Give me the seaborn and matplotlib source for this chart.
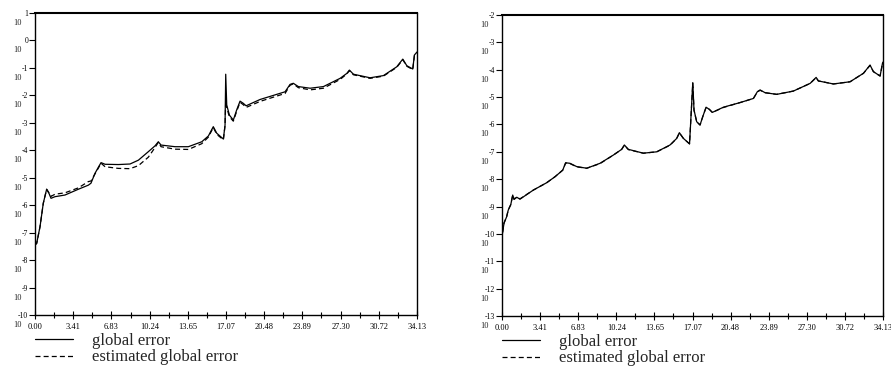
import numpy as np
import pandas as pd
import matplotlib
matplotlib.use("Agg")
import matplotlib.pyplot as plt
import seaborn as sns
from matplotlib.lines import Line2D

sns.set_theme(style="white")
plt.rcParams['font.family'] = ['Liberation Serif', 'DejaVu Serif']

# ---------------- data (log10 of error) ----------------
t_left = [0.0, 0.15, 0.45, 0.74, 1.04, 1.25, 1.43, 1.79, 2.68, 3.87, 4.77, 5.0, 5.36, 5.66,
          5.9, 6.26, 7.45, 8.49, 9.24, 10.13, 10.72, 11.02, 11.26, 12.51, 13.7, 14.9, 15.49,
          15.93, 16.24, 16.83, 16.98, 17.04, 17.13, 17.37, 17.72, 18.02, 18.32, 18.61, 18.86,
          20.11, 22.34, 22.79, 23.08, 23.53, 24.58, 25.77, 27.26, 27.86, 28.09, 28.45, 29.94,
          31.13, 32.32, 32.86, 33.22, 33.75, 33.9, 34.13]
global_left = [-7.45, -7.39, -6.78, -5.93, -5.42, -5.57, -5.75, -5.69, -5.63, -5.42, -5.27,
               -5.2, -4.84, -4.62, -4.45, -4.51, -4.52, -4.5, -4.36, -4.05, -3.84, -3.69,
               -3.81, -3.87, -3.87, -3.69, -3.48, -3.14, -3.38, -3.59, -3.08, -1.23, -2.35,
               -2.72, -2.9, -2.53, -2.21, -2.29, -2.38, -2.15, -1.87, -1.6, -1.56, -1.68,
               -1.74, -1.68, -1.38, -1.2, -1.08, -1.23, -1.36, -1.28, -0.96, -0.68, -0.92,
               -1.04, -0.53, -0.42]
est_left = [-7.45, -7.39, -6.78, -5.93, -5.42, -5.55, -5.68, -5.6, -5.55, -5.37, -5.14,
            -5.12, -4.86, -4.65, -4.47, -4.6, -4.66, -4.67, -4.56, -4.25, -3.9, -3.71,
            -3.87, -3.96, -3.97, -3.76, -3.52, -3.17, -3.42, -3.62, -3.1, -2.2, -2.45,
            -2.78, -2.94, -2.58, -2.25, -2.34, -2.44, -2.22, -1.93, -1.63, -1.58, -1.72,
            -1.8, -1.74, -1.42, -1.22, -1.1, -1.25, -1.38, -1.3, -0.98, -0.7, -0.94,
            -1.06, -0.55, -0.44]

t_right = [0.0, 0.02, 0.18, 0.42, 0.56, 0.78, 0.96, 1.08, 1.32, 1.61, 2.8, 4.0, 4.75, 5.44,
           5.7, 6.09, 6.69, 7.59, 8.78, 9.97, 10.72, 10.96, 11.32, 12.66, 13.86, 15.05, 15.65,
           15.89, 16.25, 16.8, 17.09, 17.2, 17.44, 17.74, 17.98, 18.28, 18.58, 18.84, 19.83,
           21.33, 22.52, 22.88, 23.12, 23.57, 24.61, 26.1, 27.6, 28.14, 28.34, 29.69, 31.18,
           32.38, 32.97, 33.27, 33.87, 34.08, 34.13]
global_right = [-10.83, -10.04, -9.61, -9.37, -9.13, -8.94, -8.58, -8.74, -8.66, -8.73, -8.4,
                -8.13, -7.91, -7.67, -7.4, -7.42, -7.54, -7.6, -7.42, -7.12, -6.91, -6.75,
                -6.91, -7.05, -7.0, -6.75, -6.51, -6.3, -6.51, -6.71, -4.47, -5.47, -5.9,
                -6.02, -5.72, -5.37, -5.45, -5.56, -5.37, -5.2, -5.05, -4.8, -4.74, -4.84,
                -4.9, -4.78, -4.5, -4.28, -4.41, -4.52, -4.44, -4.13, -3.83, -4.07, -4.23,
                -3.77, -3.72]
est_right = [-10.83, -10.04, -9.6, -9.36, -9.12, -8.93, -8.58, -8.73, -8.66, -8.72, -8.4,
             -8.13, -7.91, -7.67, -7.41, -7.43, -7.55, -7.6, -7.43, -7.12, -6.91, -6.76,
             -6.92, -7.05, -7.0, -6.76, -6.51, -6.31, -6.51, -6.71, -4.5, -5.48, -5.9,
             -6.02, -5.72, -5.38, -5.45, -5.56, -5.38, -5.2, -5.05, -4.81, -4.75, -4.84,
             -4.9, -4.78, -4.5, -4.29, -4.41, -4.52, -4.44, -4.13, -3.84, -4.07, -4.23,
             -3.78, -3.73]

x_ticks = [0.0, 3.413, 6.826, 10.239, 13.652, 17.065, 20.478, 23.891, 27.304, 30.717, 34.13]
x_labels = ["0.00", "3.41", "6.83", "10.24", "13.65", "17.07", "20.48", "23.89", "27.30",
            "30.72", "34.13"]
left_exps = list(range(-10, 2))
right_exps = list(range(-13, -1))
series_names = ["global error", "estimated global error"]

# ---------------- figure ----------------
W, H = 891, 367
fig = plt.figure(figsize=(W / 100, H / 100), dpi=100)
ax1 = fig.add_axes([35 / W, 1 - 315 / H, 382 / W, 302 / H])
ax2 = fig.add_axes([502 / W, 1 - 316 / H, 381 / W, 301 / H])

DASH = (0, (4, 2.5))


def draw(ax, t, g, e, exps):
    df = pd.DataFrame({"t": t, "g": 10.0 ** np.array(g), "e": 10.0 ** np.array(e)})
    sns.lineplot(data=df, x="t", y="e", ax=ax, color="black", lw=0.9,
                 estimator=None, sort=False, linestyle=DASH)
    sns.lineplot(data=df, x="t", y="g", ax=ax, color="black", lw=0.9,
                 estimator=None, sort=False)
    ax.set_yscale("log")
    ax.set_xlim(0, 34.13)
    ax.set_ylim(10.0 ** exps[0], 10.0 ** exps[-1])
    ax.set_xlabel("")
    ax.set_ylabel("")
    for s in ax.spines.values():
        s.set_color("black")
        s.set_linewidth(1.0)
    ax.spines["top"].set_linewidth(1.5)
    ax.set_yticks([10.0 ** k for k in exps])
    ax.set_yticklabels([str(k) for k in exps], fontsize=5.5)
    ax.yaxis.set_minor_locator(matplotlib.ticker.NullLocator())
    ax.tick_params(axis="y", which="major", direction="out", length=4, width=0.8,
                   pad=1, left=True, colors="black")
    ax.set_xticks(x_ticks)
    ax.set_xticklabels(x_labels, fontsize=6)
    ax.set_xticks([(x_ticks[i] + x_ticks[i + 1]) / 2 for i in range(len(x_ticks) - 1)],
                  minor=True)
    ax.tick_params(axis="x", which="major", direction="inout", length=6, width=0.8,
                   pad=3, bottom=True, colors="black")
    ax.tick_params(axis="x", which="minor", direction="inout", length=4, width=0.8,
                   bottom=True, colors="black")
    for k in exps:
        ax.annotate("10", xy=(0, 10.0 ** k), xycoords=("axes fraction", "data"),
                    xytext=(-13, -10), textcoords="offset pixels", ha="right",
                    va="center", fontsize=6)
    ax.grid(False)
    ax.set_facecolor("white")
    handles = [Line2D([], [], color="black", lw=0.9),
               Line2D([], [], color="black", lw=0.9, linestyle=DASH)]
    ax.legend(handles, series_names, loc="upper left",
              bbox_to_anchor=(0.0, -0.06), frameon=False, fontsize=12,
              handlelength=2.25, handletextpad=1.15, labelspacing=0.02, borderpad=0,
              borderaxespad=0)


draw(ax1, t_left, global_left, est_left, left_exps)
draw(ax2, t_right, global_right, est_right, right_exps)

fig.savefig("out.png", dpi=100, facecolor="white")
